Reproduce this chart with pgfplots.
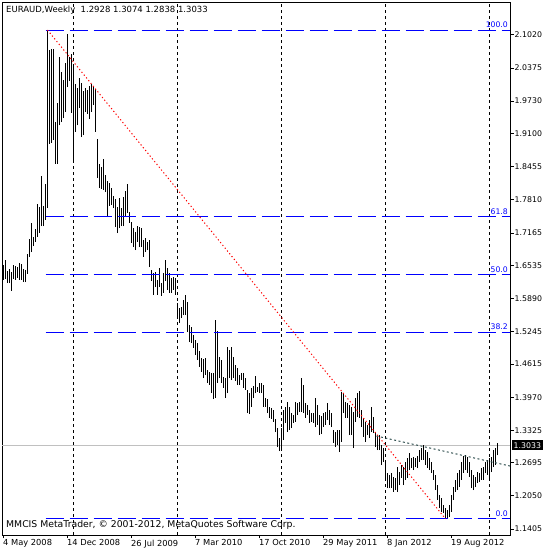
\documentclass[border=0pt]{standalone}
\usepackage{pgfplots}
\pgfplotsset{compat=1.18}
\usepackage{pgfplotstable}
\usepackage{fontspec}
\setmainfont{DejaVu Sans}

\definecolor{fibblue}{RGB}{0,0,255}
\definecolor{pricegray}{RGB}{192,192,192}
\definecolor{slate}{RGB}{47,79,79}

% weekly bars, week 0 = 4 May 2008; hi / lo
\pgfplotstableread{
w hi lo
0 1.654 1.625
1 1.664 1.627
2 1.642 1.619
3 1.646 1.619
4 1.641 1.604
5 1.654 1.627
6 1.652 1.625
7 1.650 1.629
8 1.658 1.625
9 1.656 1.625
10 1.646 1.621
11 1.644 1.621
12 1.676 1.637
13 1.705 1.670
14 1.736 1.679
15 1.709 1.691
16 1.724 1.699
17 1.773 1.709
18 1.767 1.716
19 1.827 1.730
20 1.769 1.730
21 1.812 1.742
22 2.1113 1.765
23 2.072 1.890
24 2.074 1.892
25 2.074 1.897
26 1.932 1.851
27 1.969 1.851
28 2.059 1.926
29 2.030 1.932
30 2.014 1.940
31 2.047 1.952
32 2.104 2.000
33 2.059 2.012
34 2.065 1.950
35 2.045 1.858
36 2.006 1.913
37 1.999 1.926
38 2.018 1.960
39 2.008 1.903
40 1.993 1.907
41 1.999 1.952
42 1.995 1.948
43 2.002 1.938
44 2.006 1.952
45 2.000 1.965
46 1.997 1.913
47 1.899 1.823
48 1.851 1.804
49 1.845 1.802
50 1.860 1.800
51 1.829 1.796
52 1.818 1.749
53 1.814 1.769
54 1.804 1.771
55 1.788 1.765
56 1.783 1.728
57 1.767 1.716
58 1.785 1.726
59 1.765 1.730
60 1.786 1.730
61 1.798 1.748
62 1.812 1.755
63 1.757 1.736
64 1.738 1.697
65 1.726 1.689
66 1.718 1.683
67 1.730 1.699
68 1.728 1.689
69 1.726 1.689
70 1.703 1.670
71 1.707 1.679
72 1.699 1.683
73 1.703 1.650
74 1.644 1.623
75 1.639 1.596
76 1.641 1.611
77 1.625 1.596
78 1.648 1.611
79 1.619 1.594
80 1.639 1.600
81 1.664 1.623
82 1.648 1.606
83 1.639 1.600
84 1.629 1.600
85 1.631 1.606
86 1.629 1.596
87 1.580 1.553
88 1.571 1.541
89 1.572 1.551
90 1.586 1.557
91 1.596 1.557
92 1.582 1.524
93 1.537 1.504
94 1.533 1.502
95 1.518 1.493
96 1.508 1.479
97 1.502 1.469
98 1.487 1.456
99 1.473 1.446
100 1.471 1.434
101 1.473 1.440
102 1.450 1.425
103 1.446 1.421
104 1.444 1.405
105 1.444 1.393
106 1.547 1.395
107 1.526 1.425
108 1.475 1.434
109 1.469 1.425
110 1.436 1.415
111 1.434 1.395
112 1.495 1.405
113 1.489 1.434
114 1.495 1.430
115 1.475 1.434
116 1.460 1.429
117 1.454 1.421
118 1.440 1.421
119 1.444 1.430
120 1.444 1.415
121 1.434 1.411
122 1.411 1.366
123 1.405 1.364
124 1.415 1.378
125 1.419 1.395
126 1.438 1.405
127 1.417 1.407
128 1.425 1.405
129 1.425 1.405
130 1.421 1.378
131 1.395 1.378
132 1.393 1.366
133 1.378 1.357
134 1.376 1.355
135 1.372 1.349
136 1.355 1.329
137 1.337 1.300
138 1.318 1.292
139 1.337 1.294
140 1.372 1.314
141 1.378 1.347
142 1.388 1.329
143 1.378 1.333
144 1.366 1.337
145 1.362 1.347
146 1.388 1.349
147 1.386 1.362
148 1.388 1.368
149 1.434 1.368
150 1.421 1.366
151 1.386 1.357
152 1.382 1.362
153 1.372 1.347
154 1.366 1.349
155 1.366 1.347
156 1.395 1.339
157 1.382 1.343
158 1.362 1.323
159 1.360 1.325
160 1.366 1.339
161 1.368 1.343
162 1.386 1.353
163 1.372 1.343
164 1.366 1.339
165 1.333 1.308
166 1.329 1.300
167 1.333 1.304
168 1.333 1.290
169 1.407 1.310
170 1.405 1.366
171 1.388 1.357
172 1.386 1.357
173 1.382 1.323
174 1.378 1.323
175 1.368 1.298
176 1.395 1.349
177 1.405 1.358
178 1.409 1.357
179 1.372 1.339
180 1.357 1.320
181 1.349 1.310
182 1.343 1.323
183 1.353 1.318
184 1.378 1.329
185 1.358 1.327
186 1.329 1.300
187 1.323 1.294
188 1.323 1.294
189 1.304 1.265
190 1.298 1.271
191 1.269 1.236
192 1.250 1.220
193 1.246 1.220
194 1.250 1.220
195 1.242 1.213
196 1.240 1.216
197 1.261 1.213
198 1.251 1.226
199 1.265 1.240
200 1.261 1.226
201 1.271 1.236
202 1.279 1.240
203 1.288 1.255
204 1.279 1.259
205 1.281 1.255
206 1.279 1.261
207 1.283 1.259
208 1.294 1.271
209 1.298 1.275
210 1.304 1.275
211 1.294 1.265
212 1.290 1.259
213 1.279 1.255
214 1.271 1.250
215 1.255 1.236
216 1.246 1.216
217 1.226 1.197
218 1.207 1.181
219 1.201 1.174
220 1.187 1.172
221 1.181 1.1605
222 1.178 1.162
223 1.187 1.164
224 1.207 1.174
225 1.222 1.197
226 1.236 1.213
227 1.250 1.216
228 1.255 1.222
229 1.271 1.236
230 1.283 1.250
231 1.285 1.255
232 1.281 1.250
233 1.271 1.242
234 1.255 1.220
235 1.246 1.216
236 1.242 1.222
237 1.251 1.230
238 1.250 1.232
239 1.259 1.236
240 1.261 1.236
241 1.271 1.250
242 1.275 1.246
243 1.279 1.236
244 1.281 1.251
245 1.294 1.261
246 1.298 1.265
247 1.3074 1.2838
}\bars

\begin{document}
\begin{tikzpicture}
\begin{axis}[
  at={(0,0)}, anchor=south west,
  scale only axis,
  width=508pt, height=533pt,
  xmin=-0.75, xmax=253.25,
  ymin=1.1289, ymax=2.1658,
  clip=false,
  axis line style={line width=0.9pt},
  tick align=outside,
  major tick length=3.5pt,
  tick style={black, line width=0.8pt},
  xtick pos=left,
  ytick pos=right,
  yticklabel pos=right,
  xtick={0,32,64,96,128,160,192,224},
  xticklabels={4 May 2008,14 Dec 2008,26 Jul 2009,7 Mar 2010,17 Oct 2010,29 May 2011,8 Jan 2012,19 Aug 2012},
  xticklabel style={font=\fontsize{8.3}{10}\selectfont, anchor=north west, inner sep=0pt, xshift=-0.5pt, yshift=-1pt},
  ytick={1.1405,1.2050,1.2695,1.3325,1.3970,1.4615,1.5245,1.5890,1.6535,1.7165,1.7810,1.8455,1.9100,1.9730,2.0375,2.1020},
  yticklabels={1.1405,1.2050,1.2695,1.3325,1.3970,1.4615,1.5245,1.5890,1.6535,1.7165,1.7810,1.8455,1.9100,1.9730,2.0375,2.1020},
  yticklabel style={font=\fontsize{7.8}{9}\selectfont, anchor=west, inner sep=0pt, xshift=1pt},
  extra x ticks={35,87,139,191,243},
  extra x tick labels={},
  extra x tick style={xmajorgrids=true, major tick length=0pt,
    major grid style={black, line width=0.8pt, dash pattern=on 3pt off 3pt}},
]
% current price line
\addplot[pricegray, line width=1pt] coordinates {(-0.75,1.3033) (253.25,1.3033)};

% high-low bars
\addplot[draw=none, mark=none,
  error bars/.cd, y dir=plus, y explicit, error mark=none,
  error bar style={black, line width=1pt}]
  table[x=w, y=lo, y error plus expr=\thisrow{hi}-\thisrow{lo}] {\bars};

% fibonacci levels
\addplot[fibblue, line width=1pt, dash pattern=on 18pt off 6pt] coordinates {(21,2.1113) (253.25,2.1113)};
\addplot[fibblue, line width=1pt, dash pattern=on 18pt off 6pt] coordinates {(21,1.7481) (253.25,1.7481)};
\addplot[fibblue, line width=1pt, dash pattern=on 18pt off 6pt] coordinates {(21,1.6359) (253.25,1.6359)};
\addplot[fibblue, line width=1pt, dash pattern=on 18pt off 6pt] coordinates {(21,1.5237) (253.25,1.5237)};
\addplot[fibblue, line width=1pt, dash pattern=on 18pt off 6pt] coordinates {(21,1.1605) (253.25,1.1605)};

\begin{scope}[font=\fontsize{7.7}{9}\selectfont, text=fibblue, inner sep=0pt, anchor=south east]
\node at (axis cs:253.25,2.1113) [xshift=-2pt, yshift=2pt] {100.0};
\node at (axis cs:253.25,1.7481) [xshift=-2pt, yshift=2pt] {61.8};
\node at (axis cs:253.25,1.6359) [xshift=-2pt, yshift=2pt] {50.0};
\node at (axis cs:253.25,1.5237) [xshift=-2pt, yshift=2pt] {38.2};
\node at (axis cs:253.25,1.1605) [xshift=-2pt, yshift=2pt] {0.0};
\end{scope}

% trend lines
\addplot[red, line width=1pt, dash pattern=on 1.2pt off 2.4pt] coordinates {(22,2.1113) (221,1.1605)};
\addplot[slate, line width=1pt, dash pattern=on 2pt off 2.5pt] coordinates {(186.5,1.3214) (253.25,1.2631)};

% price box
\node[fill=black, text=white, anchor=west, inner xsep=2pt, inner ysep=2pt,
  font=\fontsize{7.8}{9}\selectfont] at (axis cs:253.25,1.3033) [xshift=1.5pt] {1.3033};

% texts
\node[anchor=west, inner sep=0pt, font=\fontsize{8.5}{10}\selectfont]
  at (rel axis cs:0,1) [xshift=4pt, yshift=-8pt] {EURAUD,Weekly\ \ 1.2928 1.3074 1.2838 1.3033};
\node[anchor=west, inner sep=0pt, font=\fontsize{9.3}{11}\selectfont]
  at (rel axis cs:0,0) [xshift=4pt, yshift=10pt] {MMCIS MetaTrader, © 2001-2012, MetaQuotes Software Corp.};
\end{axis}
\pgfresetboundingbox
\useasboundingbox (-2pt,-15pt) rectangle (548pt,535pt);
\end{tikzpicture}
\end{document}
